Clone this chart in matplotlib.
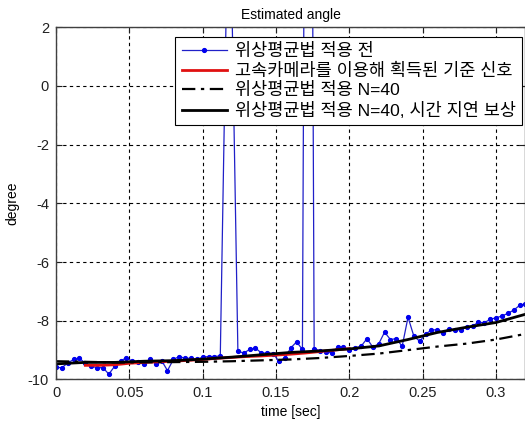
import numpy as np
import matplotlib
matplotlib.use("Agg")
import matplotlib.pyplot as plt

plt.rcParams["font.family"] = ["Liberation Sans", "Noto Sans CJK KR"]

# raw phase estimate, one sample every 4 ms
dt = 0.004
raw_angle = [
    -9.59, -9.60, -9.44, -9.32, -9.28, -9.45, -9.55, -9.60, -9.60, -9.82,
    -9.55, -9.36, -9.27, -9.38, -9.42, -9.48, -9.30, -9.48, -9.36, -9.70,
    -9.32, -9.22, -9.28, -9.28, -9.32, -9.24, -9.22, -9.22, -9.20, 2.5,
    2.6, -9.04, -9.10, -8.98, -8.93, -9.10, -9.10, -9.12, -9.38, -9.27,
    -8.93, -8.72, -8.98, 38.0, -8.96, -9.02, -9.06, -9.10, -8.90, -8.90,
    -9.00, -8.93, -8.87, -8.61, -8.90, -8.79, -8.39, -8.64, -8.61, -8.87,
    -7.88, -8.53, -8.70, -8.45, -8.32, -8.30, -8.41, -8.27, -8.33, -8.30,
    -8.22, -8.18, -8.05, -8.07, -7.95, -7.90, -7.84, -7.75, -7.64, -7.48,
    -7.42,
]
raw_time = np.arange(len(raw_angle)) * dt

# high speed camera reference
ref_time = [0.02, 0.03, 0.04, 0.05, 0.06, 0.07, 0.08, 0.09, 0.10, 0.11,
            0.12, 0.13, 0.14, 0.15, 0.16, 0.17, 0.18, 0.19, 0.20]
ref_angle = [-9.52, -9.52, -9.50, -9.45, -9.42, -9.40, -9.38, -9.35, -9.32,
             -9.28, -9.25, -9.22, -9.20, -9.17, -9.14, -9.10, -9.05, -9.00,
             -8.95]

# averaged estimates, N=40
avg_time = [0.00, 0.02, 0.04, 0.06, 0.08, 0.10, 0.12, 0.14, 0.16, 0.18,
            0.20, 0.22, 0.24, 0.26, 0.28, 0.30, 0.32]
avg_angle = [-9.38, -9.40, -9.42, -9.42, -9.41, -9.40, -9.38, -9.35, -9.32,
             -9.27, -9.20, -9.12, -9.00, -8.88, -8.78, -8.64, -8.45]
comp_angle = [-9.47, -9.42, -9.42, -9.38, -9.36, -9.31, -9.24, -9.16, -9.08,
              -9.03, -8.96, -8.86, -8.64, -8.40, -8.22, -8.06, -7.78]

labels = [
    "위상평균법 적용 전",
    "고속카메라를 이용해 획득된 기준 신호",
    "위상평균법 적용 N=40",
    "위상평균법 적용 N=40, 시간 지연 보상",
]

fig = plt.figure(figsize=(5.25, 4.22), dpi=100)
ax = fig.add_axes([0.1067, 0.1009, 0.894, 0.8344])

ax.plot(raw_time, raw_angle, color="#2020c8", lw=0.9, marker=".",
        markersize=5.5, markerfacecolor="#0000ee", markeredgecolor="#0000ee",
        label=labels[0])
ax.plot(ref_time, ref_angle, color="#e01010", lw=2, label=labels[1])
ax.plot(avg_time, avg_angle, color="black", lw=1.6, linestyle=(0, (6, 2.5, 1.5, 2.5)),
        label=labels[2])
ax.plot(avg_time, comp_angle, color="black", lw=2, label=labels[3])

ax.set_xlim(0, 0.32)
ax.set_ylim(-10, 2)
ax.set_xticks([0, 0.05, 0.1, 0.15, 0.2, 0.25, 0.3])
ax.set_xticklabels(["0", "0.05", "0.1", "0.15", "0.2", "0.25", "0.3"])
ax.set_yticks([-10, -8, -6, -4, -2, 0, 2])
ax.set_yticklabels(["-10", "-8", "-6", "-4", "-2", "0", "2"])
ax.tick_params(direction="in", length=4, labelsize=10.5, colors="#202020",
               top=True, right=True, pad=5)
ax.grid(True, color="black", linestyle=(0, (3, 3)), lw=0.8)
for s in ax.spines.values():
    s.set_color("#404040")
    s.set_linewidth(1)

ax.set_title("Estimated angle", fontsize=10, pad=6)
ax.set_xlabel("time [sec]", fontsize=10, labelpad=3)
ax.set_ylabel("degree", fontsize=10, labelpad=6)

leg = ax.legend(loc="upper right", bbox_to_anchor=(522 / 525, 1 - 37 / 422),
                bbox_transform=fig.transFigure, fontsize=12.6, frameon=True,
                fancybox=False, edgecolor="black", framealpha=1,
                handlelength=2.6, handletextpad=0.45, labelspacing=0.2,
                borderpad=0.35, borderaxespad=0)
leg.get_frame().set_linewidth(0.8)

fig.savefig("out.png", dpi=100)
